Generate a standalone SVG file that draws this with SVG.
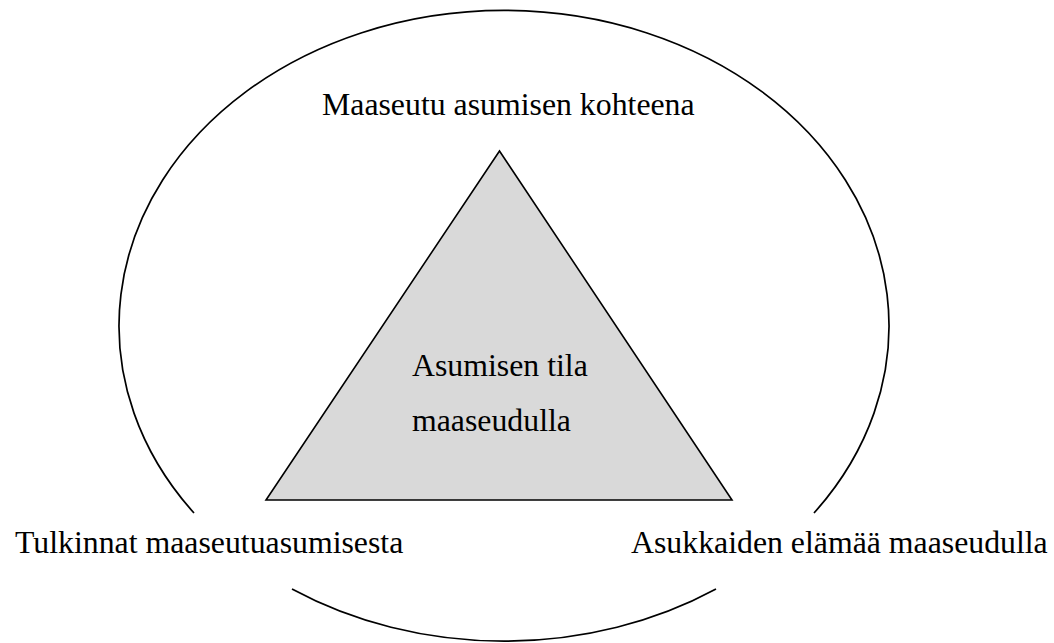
<svg xmlns="http://www.w3.org/2000/svg" width="1054" height="643" viewBox="0 0 1054 643">
  <style>
    .outline { fill: none; stroke: #000; stroke-width: 1.7; }
    .tri { fill: #d9d9d9; stroke: #000; stroke-width: 1.6; stroke-linejoin: miter; }
    .lbl { font-family: "Liberation Serif", "Times New Roman", serif; font-size: 31.8px; fill: #000; }
  </style>
  <rect width="1054" height="643" fill="#fff"/>
  <g id="outer-ellipse">
    <path class="outline" d="M194,513 A385,315.5 0 1 1 814,513"/>
    <path class="outline" d="M292,589 A385,315.5 0 0 0 716,589"/>
  </g>
  <g id="triangle">
    <polygon class="tri" points="499.5,151 266,500 732,500"/>
    <text class="lbl" x="412" y="376">Asumisen tila</text>
    <text class="lbl" x="412" y="431">maaseudulla</text>
  </g>
  <g id="label-top">
    <text class="lbl" x="322" y="115">Maaseutu asumisen kohteena</text>
  </g>
  <g id="label-left">
    <text class="lbl" x="15" y="553">Tulkinnat maaseutuasumisesta</text>
  </g>
  <g id="label-right">
    <text class="lbl" x="631" y="553">Asukkaiden elämää maaseudulla</text>
  </g>
  <g id="connectors"></g>
</svg>
